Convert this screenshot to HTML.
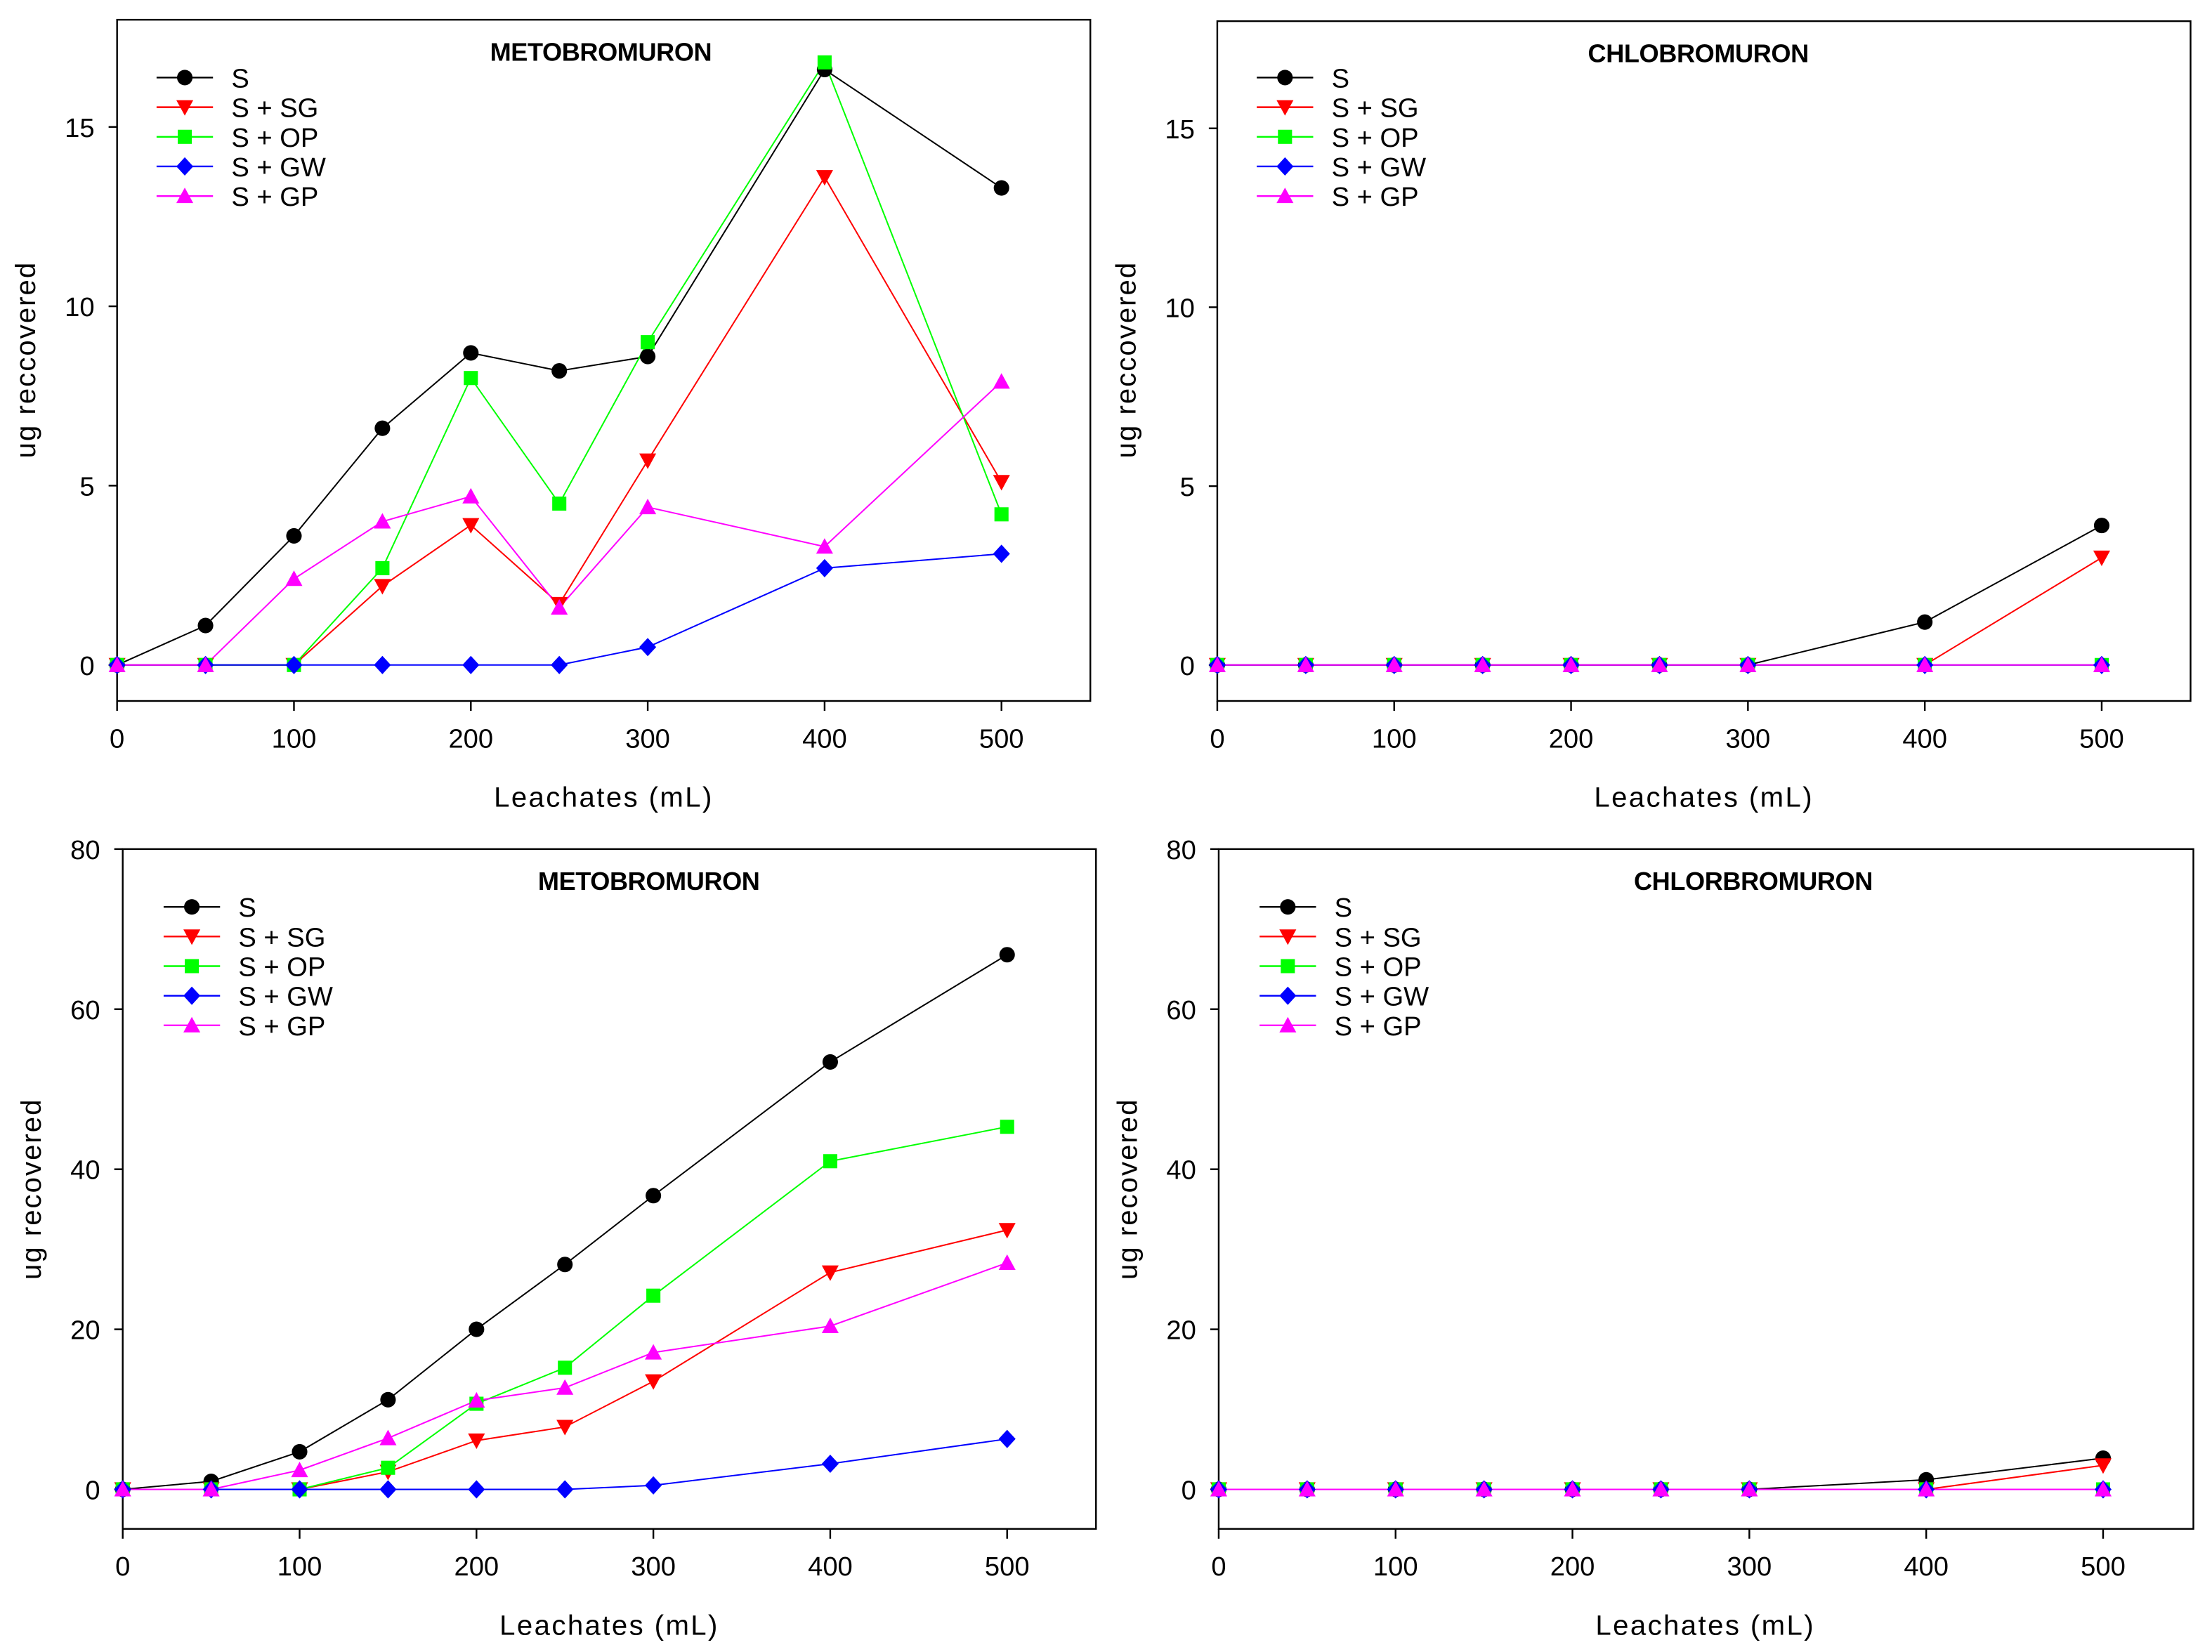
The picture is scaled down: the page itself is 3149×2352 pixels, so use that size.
<!DOCTYPE html>
<html><head><meta charset="utf-8"><style>
html,body{margin:0;padding:0;background:#fff}
svg{display:block}
text{font-family:"Liberation Sans",sans-serif}
</style></head><body>
<svg id="chart" width="3149" height="2352" viewBox="0 0 1568.2 1171.3" xmlns="http://www.w3.org/2000/svg"></svg>
<script>
const xVals = [0,50,100,150,200,250,300,400,500];
const xTicks = [0,100,200,300,400,500];
const seriesNames = ["S","S + SG","S + OP","S + GW","S + GP"];
const tlS  = [0,1.1,3.6,6.6,8.7,8.2,8.6,16.6,13.3];
const tlSG = [0,0,0,2.2,3.9,1.7,5.7,13.6,5.1];
const tlOP = [0,0,0,2.7,8.0,4.5,9.0,16.8,4.2];
const tlGW = [0,0,0,0,0,0,0.5,2.7,3.1];
const tlGP = [0,0,2.4,4.0,4.7,1.6,4.4,3.3,7.9];
const trS  = [0,0,0,0,0,0,0,1.2,3.9];
const trSG = [0,0,0,0,0,0,0,0,3.0];
const trOP = [0,0,0,0,0,0,0,0,0];
const trGW = [0,0,0,0,0,0,0,0,0];
const trGP = [0,0,0,0,0,0,0,0,0];
const blS  = [0,1.0,4.7,11.2,20.0,28.1,36.7,53.4,66.8];
const blSG = [0,0,0,2.2,6.1,7.8,13.5,27.1,32.4];
const blOP = [0,0,0,2.7,10.7,15.2,24.2,41.0,45.3];
const blGW = [0,0,0,0,0,0,0.5,3.2,6.3];
const blGP = [0,0,2.4,6.4,11.1,12.7,17.1,20.4,28.3];
const brS  = [0,0,0,0,0,0,0,1.2,3.9];
const brSG = [0,0,0,0,0,0,0,0,3.0];
const brOP = [0,0,0,0,0,0,0,0,0];
const brGW = [0,0,0,0,0,0,0,0,0];
const brGP = [0,0,0,0,0,0,0,0,0];
const yTicksSmall = [0,5,10,15];
const yTicksBig = [0,20,40,60,80];

const NS="http://www.w3.org/2000/svg";
const svg=document.getElementById('chart');
function mk(tag,attrs,parent){const e=document.createElementNS(NS,tag);for(const k in attrs)e.setAttribute(k,attrs[k]);(parent||svg).appendChild(e);return e;}
const colors=["#000","#f00","#0f0","#00f","#f0f"];
const shapes=["circle","tri-down","square","diamond","tri-up"];

function marker(g,shape,x,y,c,name){
  let e;const r=5.5;
  if(shape==="circle") e=mk('circle',{cx:x,cy:y,r:r,fill:c},g);
  else if(shape==="square") e=mk('rect',{x:x-5,y:y-5,width:10,height:10,fill:c},g);
  else if(shape==="diamond") e=mk('polygon',{points:`${x},${y-6.5} ${x+6},${y} ${x},${y+6.5} ${x-6},${y}`,fill:c},g);
  else if(shape==="tri-down") e=mk('polygon',{points:`${x-6},${y-5} ${x+6},${y-5} ${x},${y+6}`,fill:c},g);
  else e=mk('polygon',{points:`${x-6},${y+5} ${x+6},${y+5} ${x},${y-6}`,fill:c},g);
  
  
}

function panel(cfg){
  const g=mk('g',{});
  
  
  const X=v=>cfg.x0+(v-0)/500*(cfg.x500-cfg.x0);
  const Y=v=>cfg.yZero-(v/cfg.yRefVal)*(cfg.yZero-cfg.yRef);
  const f=mk('rect',{x:cfg.left,y:cfg.top,width:cfg.right-cfg.left,height:cfg.bottom-cfg.top,fill:'none',stroke:'#000','stroke-width':1.2},g);
  
  
  cfg.yTicks.forEach(t=>{
    const y=Y(t);
    const l=mk('line',{x1:cfg.left-6,x2:cfg.left,y1:y,y2:y,stroke:'#000','stroke-width':1.2},g);
    
    
    const tx=mk('text',{x:cfg.left-16,y:y+7,'text-anchor':'end','font-size':19},g);
    tx.textContent=t;
    
    
  });
  xTicks.forEach(t=>{
    const x=X(t);
    const l=mk('line',{x1:x,x2:x,y1:cfg.bottom,y2:cfg.bottom+7,stroke:'#000','stroke-width':1.2},g);
    
    
    const tx=mk('text',{x:x,y:cfg.bottom+33,'text-anchor':'middle','font-size':19},g);
    tx.textContent=t;
    
    
  });
  const xl=mk('text',{x:cfg.xLabelX,y:cfg.bottom+75,'text-anchor':'middle','font-size':20,'letter-spacing':1.2},g);
  xl.textContent="Leachates (mL)";
  
  
  const yl=mk('text',{x:0,y:0,'text-anchor':'middle','font-size':20,'letter-spacing':1,transform:`translate(${cfg.yLabelX},${cfg.yLabelY}) rotate(-90)`},g);
  yl.textContent=cfg.yLabel;
  
  
  const tt=mk('text',{x:cfg.titleX,y:cfg.top+29,'text-anchor':'middle','font-size':18,'font-weight':'bold','letter-spacing':-0.2},g);
  tt.textContent=cfg.title;
  
  
  cfg.series.forEach((arr,i)=>{
    const pts=arr.map((v,j)=>X(xVals[j])+','+Y(v)).join(' ');
    const pl=mk('polyline',{points:pts,fill:'none',stroke:colors[i],'stroke-width':1},g);
    
    
  });
  cfg.series.forEach((arr,i)=>{
    arr.forEach((v,j)=>marker(g,shapes[i],X(xVals[j]),Y(v),colors[i],'data-point'));
  });
  seriesNames.forEach((n,i)=>{
    const y=cfg.legY+i*21;
    const lg=mk('g',{},g);
    
    
    mk('line',{x1:cfg.legX,x2:cfg.legX+40,y1:y,y2:y,stroke:colors[i],'stroke-width':1.2},lg);
    marker(lg,shapes[i],cfg.legX+20,y,colors[i],'legend-marker');
    const t=mk('text',{x:cfg.legX+53,y:y+7,'font-size':19},lg);
    t.textContent=n;
    
    
  });
}

panel({name:'panel-top-left',left:83,right:773,top:14,bottom:497,x0:83,x500:710,yZero:471.5,yRef:90,yRefVal:15,
  yTicks:yTicksSmall,series:[tlS,tlSG,tlOP,tlGW,tlGP],title:'METOBROMURON',titleX:426,legX:111,legY:55,
  xLabelX:428,yLabelX:25,yLabelY:255,yLabel:'ug reccovered'});
panel({name:'panel-top-right',left:863,right:1553,top:15,bottom:497,x0:863,x500:1490,yZero:471.5,yRef:91,yRefVal:15,
  yTicks:yTicksSmall,series:[trS,trSG,trOP,trGW,trGP],title:'CHLOBROMURON',titleX:1204,legX:891,legY:55,
  xLabelX:1208,yLabelX:805,yLabelY:255,yLabel:'ug reccovered'});
panel({name:'panel-bottom-left',left:87,right:777,top:602,bottom:1084,x0:87,x500:714,yZero:1056,yRef:602,yRefVal:80,
  yTicks:yTicksBig,series:[blS,blSG,blOP,blGW,blGP],title:'METOBROMURON',titleX:460,legX:116,legY:643,
  xLabelX:432,yLabelX:29,yLabelY:843,yLabel:'ug recovered'});
panel({name:'panel-bottom-right',left:864,right:1555,top:602,bottom:1084,x0:864,x500:1491,yZero:1056,yRef:602,yRefVal:80,
  yTicks:yTicksBig,series:[brS,brSG,brOP,brGW,brGP],title:'CHLORBROMURON',titleX:1243,legX:893,legY:643,
  xLabelX:1209,yLabelX:806,yLabelY:843,yLabel:'ug recovered'});
</script>
</body></html>
